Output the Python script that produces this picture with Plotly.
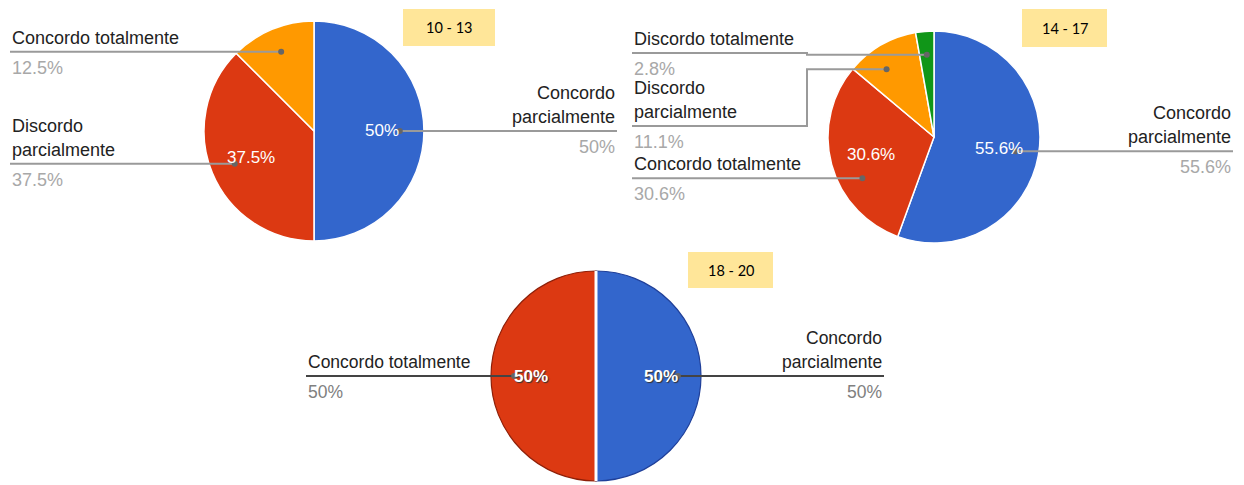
import math
import plotly.graph_objects as go

W, H = 1244, 485

# ---------------- data ----------------
pie1_labels = ["Concordo parcialmente", "Discordo parcialmente", "Concordo totalmente"]
pie1_values = [4, 3, 1]
pie2_labels = ["Concordo parcialmente", "Concordo totalmente", "Discordo parcialmente", "Discordo totalmente"]
pie2_values = [20, 11, 4, 1]
pie3_labels = ["Concordo parcialmente", "Concordo totalmente"]
pie3_values = [1, 1]
group_titles = ["10 - 13", "14 - 17", "18 - 20"]

BLUE, RED, ORANGE, GREEN = "#3366CC", "#DC3912", "#FF9900", "#109618"

# ---------------- styles / layout ----------------
pies = [
    dict(labels=pie1_labels, values=pie1_values, colors=[BLUE, RED, ORANGE],
         cx=314, cy=131, R=110, fs=18, inner_bold=False, line_col="#9a9a9a", pct_col="#a8a8a8",
         outline=None,
         # side, anchor x, line y override, elbow x, leader angle shift
         lab=[("right", 617, None, None, 0), ("left", 10, None, None, 0), ("left", 10, None, None, 0)],
         box=(403, 9, 495, 46)),
    dict(labels=pie2_labels, values=pie2_values, colors=[BLUE, RED, ORANGE, GREEN],
         cx=934, cy=137, R=106, fs=18, inner_bold=False, line_col="#9a9a9a", pct_col="#a8a8a8",
         outline=None,
         lab=[("right", 1233, None, None, 0), ("left", 632, None, None, -15),
              ("left", 632, 126, 807, -5), ("left", 632, 53, 807, 0)],
         box=(1022, 9, 1107, 47)),
    dict(labels=pie3_labels, values=pie3_values, colors=[BLUE, RED],
         cx=596, cy=376, R=105, fs=17.5, inner_bold=True, line_col="#444444", pct_col="#808080",
         outline=["#1f3f99", "#8e1f08"],
         lab=[("right", 884, None, None, 0), ("left", 306, None, None, 0)],
         box=(688, 252, 773, 288)),
]

def wrap(label):
    if label.endswith("parcialmente"):
        return label.split(" ")
    return [label]

def fmt(p):
    s = f"{p:.1f}"
    return s[:-2] + "%" if s.endswith(".0") else s + "%"

px = lambda x: x / W
py = lambda y: 1 - y / H

fig = go.Figure()
shapes, annos = [], []
FONT = "Liberation Sans, Arial, sans-serif"

for i, p in enumerate(pies):
    cx, cy, R = p["cx"], p["cy"], p["R"]
    if p["outline"]:
        mline = dict(color=p["outline"], width=1.2)
    else:
        mline = dict(color="white", width=1.5)
    fig.add_trace(go.Pie(
        labels=p["labels"], values=p["values"], sort=False, direction="clockwise",
        rotation=0, textinfo="none", hoverinfo="skip", showlegend=False,
        marker=dict(colors=p["colors"], line=mline),
        domain=dict(x=[px(cx - R), px(cx + R)], y=[py(cy + R), py(cy - R)]),
    ))
    total = sum(p["values"])
    cum = 0
    for j, (lab, v) in enumerate(zip(p["labels"], p["values"])):
        frac = v / total
        start = 360 * cum / total
        mid = 360 * (cum + v / 2) / total
        cum += v
        side, ax, ly, ex, shift = p["lab"][j]
        if p["outline"]:
            # white separator along the slice start boundary
            t0 = math.radians(start)
            shapes.append(dict(type="line", xref="paper", yref="paper",
                               x0=px(cx), y0=py(cy),
                               x1=px(cx + R * math.sin(t0)), y1=py(cy - R * math.cos(t0)),
                               line=dict(color="white", width=3)))
        # inside percentage
        if frac > 0.15:
            t = math.radians(mid)
            tx, ty = cx + 0.62 * R * math.sin(t), cy - 0.62 * R * math.cos(t)
            txt = fmt(100 * frac)
            if p["inner_bold"]:
                txt = "<b>" + txt + "</b>"
            annos.append(dict(x=px(tx), y=py(ty), xref="paper", yref="paper", text=txt,
                              showarrow=False, xanchor="center", yanchor="middle",
                              font=dict(family=FONT, size=17, color="white",
                                        shadow="1px 1px 1px #333" if p["inner_bold"] else "none")))
        # leader dot
        t = math.radians(mid + shift)
        dx, dy = cx + 0.78 * R * math.sin(t), cy - 0.78 * R * math.cos(t)
        line_y = dy if ly is None else ly
        lc = p["line_col"]
        if ex is None:
            shapes.append(dict(type="line", xref="paper", yref="paper",
                               x0=px(ax), y0=py(line_y), x1=px(dx), y1=py(line_y),
                               line=dict(color=lc, width=2)))
        else:
            path = f"M {px(ax)},{py(line_y)} L {px(ex)},{py(line_y)} L {px(ex)},{py(dy)} L {px(dx)},{py(dy)}"
            shapes.append(dict(type="path", xref="paper", yref="paper", path=path,
                               line=dict(color=lc, width=2)))
        rdot = 3
        shapes.append(dict(type="circle", xref="paper", yref="paper",
                           x0=px(dx - rdot), x1=px(dx + rdot), y0=py(dy + rdot), y1=py(dy - rdot),
                           fillcolor="#666666", line=dict(width=0)))
        # label text
        xa = "left" if side == "left" else "right"
        lines = wrap(lab)
        for k, ln in enumerate(reversed(lines)):
            annos.append(dict(x=px(ax), y=py(line_y - 14 - 24 * k), xref="paper", yref="paper",
                              text=ln, showarrow=False, xanchor=xa, yanchor="middle",
                              font=dict(family=FONT, size=p["fs"], color="#222222")))
        annos.append(dict(x=px(ax), y=py(line_y + 16), xref="paper", yref="paper",
                          text=fmt(100 * frac), showarrow=False, xanchor=xa, yanchor="middle",
                          font=dict(family=FONT, size=p["fs"], color=p["pct_col"])))
    # group box
    x0, y0, x1, y1 = p["box"]
    shapes.append(dict(type="rect", xref="paper", yref="paper", x0=px(x0), x1=px(x1),
                       y0=py(y1), y1=py(y0), fillcolor="#FFE699", line=dict(width=0), layer="below"))
    annos.append(dict(x=px((x0 + x1) / 2), y=py((y0 + y1) / 2), xref="paper", yref="paper",
                      text=group_titles[i], showarrow=False, xanchor="center", yanchor="middle",
                      font=dict(family="Lato, sans-serif", size=14.5, color="#000000")))

fig.update_layout(width=W, height=H, margin=dict(l=0, r=0, t=0, b=0),
                  paper_bgcolor="white", plot_bgcolor="white",
                  shapes=shapes, annotations=annos)
fig.write_html("out.html", config={"displayModeBar": False},
               post_script="document.body.style.margin='0';document.body.style.overflow='hidden';")
